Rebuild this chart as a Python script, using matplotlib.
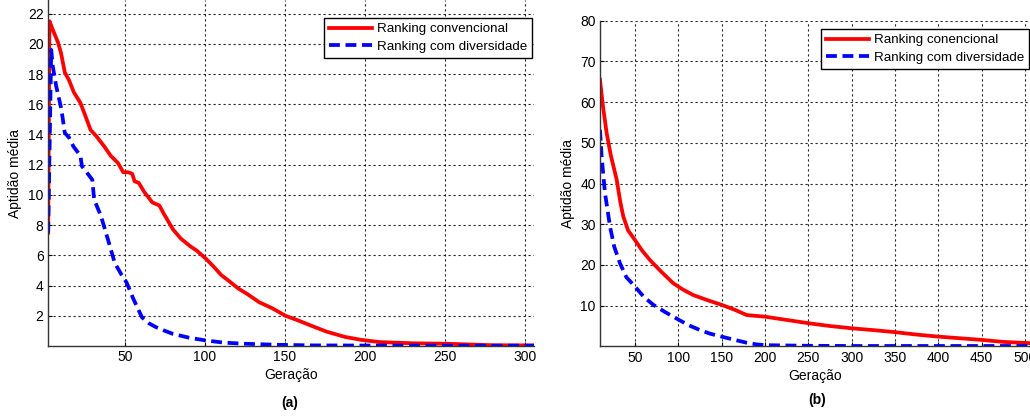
import matplotlib.pyplot as plt
import numpy as np

plt.rcParams['font.family'] = ['Liberation Sans', 'DejaVu Sans']

# (a) values
gen_a_conv = [2, 2.8, 5, 8.1, 10, 12.4, 15, 18, 22.1, 25, 28.5, 32, 37.1, 41, 45.7, 48.9,
              52, 54.5, 56, 58.6, 62, 67.1, 71.5, 74, 80.1, 85, 90.8, 95, 100.3, 105,
              110.1, 115, 120.9, 127, 133.8, 142, 150.3, 158, 166, 176, 187.5, 198, 209,
              230, 251, 280, 306]
fit_a_conv = [7.5, 21.5, 20.9, 20.1, 19.4, 18.1, 17.6, 16.8, 16.1, 15.3, 14.3, 13.9, 13.2,
              12.6, 12.1, 11.5, 11.5, 11.4, 10.9, 10.8, 10.2, 9.5, 9.3, 8.8, 7.7, 7.1, 6.6,
              6.3, 5.8, 5.3, 4.7, 4.3, 3.8, 3.4, 2.9, 2.5, 2.0, 1.7, 1.36, 0.95, 0.6, 0.4,
              0.26, 0.18, 0.15, 0.05, 0.04]

gen_a_div = [2, 3.9, 4.9, 7.0, 10.2, 12.4, 15, 17.8, 22.1, 23.1, 26, 29.6, 30.7, 35, 39.2,
             43.6, 47.9, 51, 55.3, 60.6, 65, 69.3, 75, 80, 90, 100.3, 112, 124.6, 145, 167,
             200, 250, 306]
fit_a_div = [7.5, 19.6, 18.5, 17.2, 15.7, 14.1, 13.8, 13.2, 12.6, 11.9, 11.5, 11.0, 9.7,
             8.6, 7.1, 5.5, 4.7, 4.2, 3.1, 1.9, 1.5, 1.25, 1.0, 0.8, 0.55, 0.37, 0.22, 0.15,
             0.08, 0.04, 0.03, 0.02, 0.02]

# (b) values
gen_b_conv = [9.6, 13, 17.3, 22, 28.9, 33, 36.5, 42, 50, 58, 67.3, 80, 94.2, 105, 117.3,
              133, 150, 165, 178.9, 200, 225, 250, 275, 300, 325, 350, 375, 400, 425, 450,
              475, 506]
fit_b_conv = [65.5, 59.0, 52.4, 47.0, 40.9, 35.5, 31.9, 28.5, 26.1, 23.6, 21.2, 18.4, 15.5,
              14.0, 12.6, 11.4, 10.2, 9.0, 7.7, 7.3, 6.5, 5.7, 5.0, 4.45, 4.0, 3.5, 2.9,
              2.4, 2.0, 1.6, 1.1, 0.8]

gen_b_div = [9.6, 11.5, 15.4, 21.2, 26, 32.7, 40, 50, 60, 71.2, 85, 100.8, 112, 125, 137,
             150, 165, 178.9, 190, 200, 250, 300, 400, 506]
fit_b_div = [53.2, 46.6, 37.6, 29.4, 24.5, 20.4, 17.0, 14.7, 12.2, 10.2, 8.4, 6.5, 5.2,
             4.0, 3.1, 2.4, 1.6, 0.9, 0.5, 0.3, 0.15, 0.1, 0.1, 0.1]

labels_a = ['Ranking convencional', 'Ranking com diversidade']
labels_b = ['Ranking conencional', 'Ranking com diversidade']

W, H = 1030, 416
fig = plt.figure(figsize=(W / 100, H / 100), dpi=100)


def setup(ax, xlim, ylim, xticks, yticks):
    ax.set_xlim(*xlim)
    ax.set_ylim(*ylim)
    ax.set_xticks(xticks)
    ax.set_yticks(yticks)
    ax.grid(True, color='k', linestyle=(0, (2, 2.5)), linewidth=0.8, alpha=0.85)
    ax.tick_params(direction='in', length=3, labelsize=10, pad=3, colors='k')
    ax.spines['top'].set_visible(False)
    ax.spines['right'].set_visible(False)
    for s in ['left', 'bottom']:
        ax.spines[s].set_color('#333333')
        ax.spines[s].set_linewidth(1.0)
    ax.set_xlabel('Geração', fontsize=10, labelpad=3)
    ax.set_ylabel('Aptidão média', fontsize=10, labelpad=4)


def add_legend(ax, x_right, y_top):
    leg = ax.legend(loc='upper right', bbox_to_anchor=(x_right / W, 1 - y_top / H),
                    bbox_transform=fig.transFigure, fontsize=9.6, fancybox=False,
                    edgecolor='k', framealpha=1, handlelength=3.2, borderpad=0.35,
                    labelspacing=0.4, handletextpad=0.4, borderaxespad=0)
    leg.get_frame().set_linewidth(1.0)


dash = (0, (2.9, 1.5))

# left panel
ax1 = fig.add_axes([47.7 / W, 1 - 346 / H, (534 - 47.7) / W, 346 / H])
ax1.plot(gen_a_conv, fit_a_conv, color='#ff0000', lw=2.7, label=labels_a[0])
ax1.plot(gen_a_div, fit_a_div, color='#0000ff', lw=2.7, linestyle=dash, label=labels_a[1])
setup(ax1, (1.7, 305.6), (0, 22.9), np.arange(50, 301, 50), np.arange(2, 23, 2))
add_legend(ax1, 532, 18.3)
fig.text(290 / W, 1 - 403 / H, '(a)', ha='center', va='center', fontsize=10, fontweight='bold')

# right panel
ax2 = fig.add_axes([600 / W, 1 - 346.4 / H, 430 / W, (346.4 - 20.7) / H])
ax2.plot(gen_b_conv, fit_b_conv, color='#ff0000', lw=2.7, label=labels_b[0])
ax2.plot(gen_b_div, fit_b_div, color='#0000ff', lw=2.7, linestyle=dash, label=labels_b[1])
setup(ax2, (9.6, 505.8), (0, 80), np.arange(50, 501, 50), np.arange(10, 81, 10))
add_legend(ax2, 1029, 29.3)
fig.text(817 / W, 1 - 400 / H, '(b)', ha='center', va='center', fontsize=10, fontweight='bold')

fig.savefig('out.png', dpi=100)
